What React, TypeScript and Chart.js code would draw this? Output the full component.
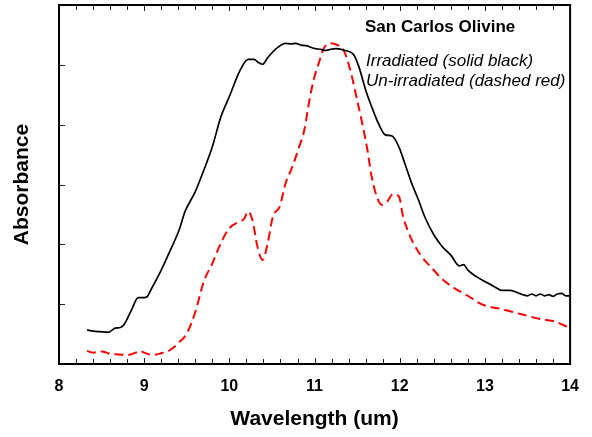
import React, { useEffect, useRef } from "react";
import { Chart, registerables } from "chart.js";

Chart.register(...registerables);

// Irradiated (solid black)
const irrWavelength = [8.33, 8.4, 8.48, 8.58, 8.66, 8.72, 8.76, 8.85, 8.93, 9.0, 9.03, 9.09, 9.2, 9.3, 9.41, 9.48, 9.6, 9.7, 9.8, 9.9, 10.0, 10.12, 10.22, 10.29, 10.34, 10.39, 10.45, 10.55, 10.66, 10.72, 10.78, 10.84, 10.9, 11.01, 11.07, 11.13, 11.19, 11.25, 11.36, 11.46, 11.52, 11.6, 11.67, 11.75, 11.83, 11.91, 11.99, 12.06, 12.14, 12.22, 12.3, 12.4, 12.5, 12.6, 12.7, 12.75, 12.8, 12.9, 13.0, 13.1, 13.2, 13.3, 13.4, 13.5, 13.55, 13.6, 13.65, 13.7, 13.75, 13.8, 13.85, 13.9, 13.95, 14.0];
const irrAbsorbance = [0.57, 0.55, 0.54, 0.53, 0.6, 0.61, 0.65, 0.9, 1.11, 1.11, 1.12, 1.27, 1.57, 1.88, 2.24, 2.55, 2.88, 3.24, 3.63, 4.13, 4.47, 4.89, 5.09, 5.09, 5.04, 5.01, 5.12, 5.27, 5.36, 5.35, 5.36, 5.33, 5.32, 5.27, 5.26, 5.24, 5.26, 5.27, 5.24, 5.17, 4.97, 4.58, 4.3, 4.02, 3.83, 3.81, 3.63, 3.35, 3.02, 2.74, 2.44, 2.16, 1.96, 1.82, 1.64, 1.66, 1.57, 1.46, 1.38, 1.3, 1.23, 1.23, 1.18, 1.14, 1.17, 1.14, 1.17, 1.14, 1.16, 1.13, 1.17, 1.18, 1.14, 1.14];

// Un-irradiated (dashed red)
const unWavelength = [8.33, 8.4, 8.5, 8.6, 8.7, 8.8, 8.9, 8.95, 9.0, 9.1, 9.2, 9.3, 9.4, 9.5, 9.6, 9.7, 9.8, 9.9, 10.0, 10.12, 10.17, 10.22, 10.27, 10.33, 10.39, 10.45, 10.51, 10.59, 10.66, 10.74, 10.82, 10.88, 10.94, 10.99, 11.05, 11.11, 11.19, 11.27, 11.34, 11.42, 11.5, 11.56, 11.62, 11.67, 11.73, 11.79, 11.85, 11.92, 11.99, 12.04, 12.1, 12.16, 12.26, 12.38, 12.49, 12.65, 12.8, 12.96, 13.04, 13.19, 13.43, 13.66, 13.82, 14.0];
const unAbsorbance = [0.22, 0.19, 0.21, 0.17, 0.16, 0.15, 0.19, 0.22, 0.19, 0.15, 0.18, 0.23, 0.35, 0.51, 0.87, 1.38, 1.68, 2.02, 2.27, 2.38, 2.42, 2.55, 2.41, 1.96, 1.74, 2.02, 2.46, 2.63, 3.02, 3.3, 3.63, 3.91, 4.41, 4.75, 5.03, 5.28, 5.36, 5.33, 5.25, 4.91, 4.41, 4.02, 3.58, 3.13, 2.8, 2.66, 2.71, 2.84, 2.8, 2.46, 2.21, 2.02, 1.79, 1.6, 1.43, 1.26, 1.14, 1.0, 0.96, 0.92, 0.83, 0.75, 0.71, 0.6];

const xTickValues = [8, 9, 10, 11, 12, 13, 14];
const xMinorStep = 0.2;
const yTickValues = [1, 2, 3, 4, 5];

const chartTitle = "San Carlos Olivine";
const legendLines = ["Irradiated (solid black)", "Un-irradiated (dashed red)"];
const xTitle = "Wavelength (um)";
const yTitle = "Absorbance";

const FONT = "'Liberation Sans', Arial, Helvetica, sans-serif";

const framePlugin = {
  id: "frame",
  afterDraw(chart: any) {
    const { ctx, chartArea, scales } = chart;
    const xs = scales.x;
    const ys = scales.y;
    const { left, right, top, bottom } = chartArea;
    ctx.save();
    ctx.fillStyle = "#000";
    // frame (2px)
    ctx.fillRect(left - 1, top - 1, right - left + 2, 2);
    ctx.fillRect(left - 1, bottom - 1, right - left + 2, 2);
    ctx.fillRect(left - 1, top - 1, 2, bottom - top + 2);
    ctx.fillRect(right - 1, top - 1, 2, bottom - top + 2);
    // x ticks (inward, top and bottom)
    ctx.fillStyle = "#222";
    const n = Math.round((xs.max - xs.min) / xMinorStep);
    for (let i = 1; i < n; i++) {
      const v = xs.min + i * xMinorStep;
      const px = Math.round(xs.getPixelForValue(v));
      const len = i % 5 === 0 ? 6 : 5;
      ctx.fillRect(px, bottom - len, 1, len);
      ctx.fillRect(px, top, 1, len);
    }
    // y ticks (inward, left)
    for (const v of yTickValues) {
      const py = Math.round(ys.getPixelForValue(v));
      ctx.fillRect(left, py, 6, 1);
    }

    ctx.fillStyle = "#000";
    ctx.textAlign = "left";
    ctx.textBaseline = "alphabetic";
    ctx.font = `bold 17px ${FONT}`;
    ctx.fillText(chartTitle, 365, 32);
    ctx.font = `italic 17px ${FONT}`;
    ctx.fillText(legendLines[0], 366, 66);
    ctx.fillText(legendLines[1], 366, 86);
    ctx.restore();
  },
};

export default function App() {
  const canvasRef = useRef<HTMLCanvasElement | null>(null);

  useEffect(() => {
    const canvas = canvasRef.current;
    if (!canvas) return;
    const chart = new Chart(canvas, {
      type: "line",
      data: {
        datasets: [
          {
            label: legendLines[0],
            data: irrWavelength.map((x, i) => ({ x, y: irrAbsorbance[i] })),
            borderColor: "#000000",
            borderWidth: 1.7,
            pointRadius: 0,
            fill: false,
            cubicInterpolationMode: "monotone",
          },
          {
            label: legendLines[1],
            data: unWavelength.map((x, i) => ({ x, y: unAbsorbance[i] })),
            borderColor: "#ff0000",
            borderWidth: 2,
            borderDash: [9, 5],
            pointRadius: 0,
            fill: false,
            cubicInterpolationMode: "monotone",
          },
        ],
      },
      options: {
        responsive: false,
        animation: false,
        devicePixelRatio: 1,
        layout: { padding: { top: 5, right: 20, left: 0, bottom: 0 } },
        plugins: {
          legend: { display: false },
          tooltip: { enabled: false },
          title: { display: false },
        },
        scales: {
          x: {
            type: "linear",
            min: 8,
            max: 14,
            grid: { display: false, drawTicks: false },
            border: { display: false },
            afterFit: (s: any) => {
              s.height = 73;
            },
            afterBuildTicks: (s: any) => {
              s.ticks = xTickValues.map((v) => ({ value: v }));
            },
            ticks: {
              color: "#000",
              padding: 13,
              maxRotation: 0,
              autoSkip: false,
              font: { family: FONT, size: 16, weight: "bold" },
            },
            title: {
              display: true,
              text: xTitle,
              color: "#000",
              padding: { top: 0, bottom: 5 },
              font: { family: FONT, size: 21, weight: "bold" },
            },
          },
          y: {
            type: "linear",
            min: 0,
            max: 6,
            grid: { display: false, drawTicks: false },
            border: { display: false },
            afterFit: (s: any) => {
              s.width = 59;
            },
            ticks: { display: false },
            title: {
              display: true,
              text: yTitle,
              color: "#000",
              padding: { top: 10, bottom: 0 },
              font: { family: FONT, size: 21, weight: "bold" },
            },
          },
        },
      },
      plugins: [framePlugin],
    } as any);
    return () => chart.destroy();
  }, []);

  return (
    <div style={{ position: "fixed", left: 0, top: 0, width: 592, height: 437, background: "#fff" }}>
      <canvas ref={canvasRef} width={592} height={437} style={{ width: 592, height: 437, display: "block" }} />
    </div>
  );
}
